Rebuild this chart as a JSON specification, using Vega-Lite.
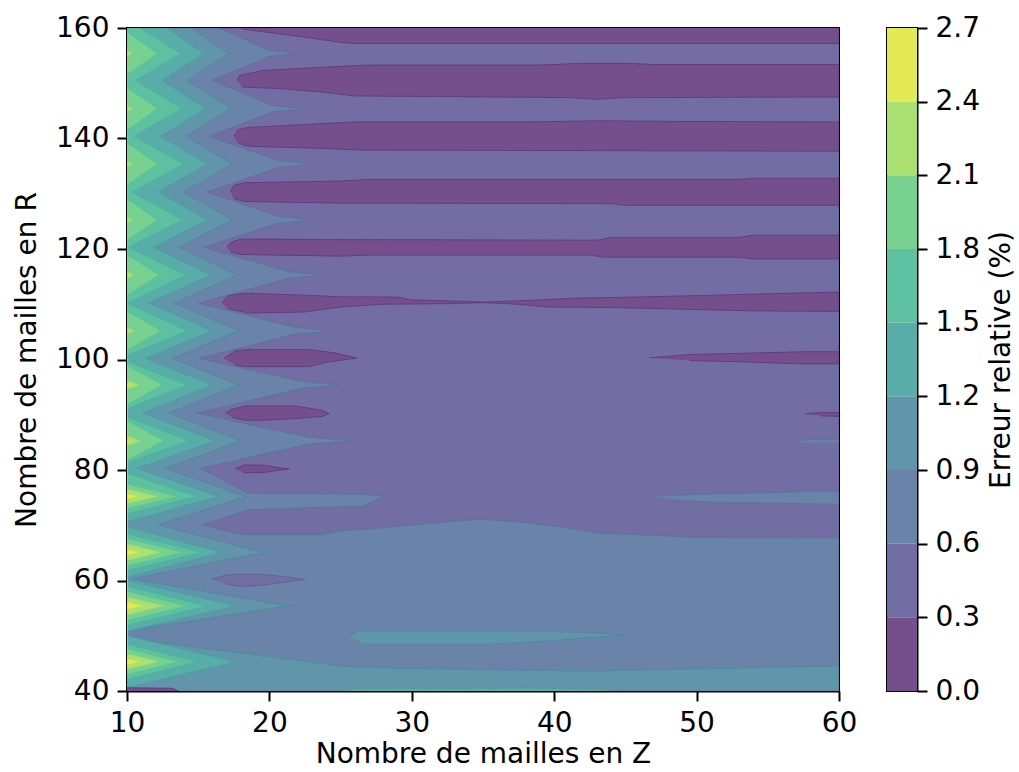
{
"$schema": "https://vega.github.io/schema/vega-lite/v6.json",
"background": "white",
"padding": {"left": 12, "top": 13, "right": 0, "bottom": 0},
"spacing": 28,
"config": {
 "font": "DejaVu Sans",
 "view": {"stroke": "#000000", "strokeWidth": 2},
 "axis": {"labelFont": "DejaVu Sans", "titleFont": "DejaVu Sans", "labelFontSize": 28, "titleFontSize": 28, "titleFontWeight": "normal", "labelColor": "#000000", "titleColor": "#000000", "tickColor": "#000000", "domainColor": "#000000", "domainWidth": 2, "tickWidth": 2, "tickSize": 10, "grid": false, "labelPadding": 8, "labelFlush": false, "labelOverlap": false}
},
"datasets": {
"cbar": [
 {"lo":0,"hi":0.3,"l":0},{"lo":0.3,"hi":0.6,"l":1},{"lo":0.6,"hi":0.9,"l":2},{"lo":0.9,"hi":1.2,"l":3},{"lo":1.2,"hi":1.5,"l":4},{"lo":1.5,"hi":1.8,"l":5},{"lo":1.8,"hi":2.1,"l":6},{"lo":2.1,"hi":2.4,"l":7},{"lo":2.4,"hi":2.7,"l":8}
],
"poly": [
{"g":"bg","p":0,"l":1,"z":10,"r":40},{"g":"bg","p":0,"l":1,"z":60,"r":40},{"g":"bg","p":0,"l":1,"z":60,"r":160},{"g":"bg","p":0,"l":1,"z":10,"r":160},

{"g":"b160","p":1,"l":0,"z":18.0,"r":160},{"g":"b160","p":1,"l":0,"z":18.1,"r":159.8},{"g":"b160","p":1,"l":0,"z":22.3,"r":158.4},{"g":"b160","p":1,"l":0,"z":25,"r":157.4},{"g":"b160","p":1,"l":0,"z":26,"r":157.2},{"g":"b160","p":1,"l":0,"z":60,"r":157.2},{"g":"b160","p":1,"l":0,"z":60,"r":160},

{"g":"b150","p":1,"l":0,"z":17.72,"r":150.5},{"g":"b150","p":1,"l":0,"z":17.9,"r":151.4},{"g":"b150","p":1,"l":0,"z":19.5,"r":152.3},{"g":"b150","p":1,"l":0,"z":23.7,"r":152.9},{"g":"b150","p":1,"l":0,"z":27,"r":153.3},{"g":"b150","p":1,"l":0,"z":39,"r":153.3},{"g":"b150","p":1,"l":0,"z":42,"r":153.6},{"g":"b150","p":1,"l":0,"z":45.3,"r":153.6},{"g":"b150","p":1,"l":0,"z":47,"r":153.4},{"g":"b150","p":1,"l":0,"z":60,"r":153.4},{"g":"b150","p":1,"l":0,"z":60,"r":147.5},{"g":"b150","p":1,"l":0,"z":45,"r":147.4},{"g":"b150","p":1,"l":0,"z":43,"r":147.1},{"g":"b150","p":1,"l":0,"z":41,"r":147.4},{"g":"b150","p":1,"l":0,"z":26,"r":147.7},{"g":"b150","p":1,"l":0,"z":23.7,"r":148.4},{"g":"b150","p":1,"l":0,"z":20.9,"r":149.0},{"g":"b150","p":1,"l":0,"z":18.1,"r":149.3},

{"g":"b140","p":1,"l":0,"z":17.49,"r":140.4},{"g":"b140","p":1,"l":0,"z":17.8,"r":141.6},{"g":"b140","p":1,"l":0,"z":18.5,"r":142.0},{"g":"b140","p":1,"l":0,"z":23.7,"r":142.7},{"g":"b140","p":1,"l":0,"z":26,"r":143.0},{"g":"b140","p":1,"l":0,"z":38,"r":143.0},{"g":"b140","p":1,"l":0,"z":43,"r":143.2},{"g":"b140","p":1,"l":0,"z":48.6,"r":143.1},{"g":"b140","p":1,"l":0,"z":60,"r":143.0},{"g":"b140","p":1,"l":0,"z":60,"r":137.7},{"g":"b140","p":1,"l":0,"z":26.4,"r":137.9},{"g":"b140","p":1,"l":0,"z":23.7,"r":138.2},{"g":"b140","p":1,"l":0,"z":18.5,"r":138.6},{"g":"b140","p":1,"l":0,"z":17.8,"r":139.2},

{"g":"b130","p":1,"l":0,"z":17.26,"r":130.3},{"g":"b130","p":1,"l":0,"z":17.5,"r":131.5},{"g":"b130","p":1,"l":0,"z":18.2,"r":132.0},{"g":"b130","p":1,"l":0,"z":25,"r":132.3},{"g":"b130","p":1,"l":0,"z":27,"r":132.6},{"g":"b130","p":1,"l":0,"z":53,"r":132.6},{"g":"b130","p":1,"l":0,"z":54,"r":132.8},{"g":"b130","p":1,"l":0,"z":60,"r":132.8},{"g":"b130","p":1,"l":0,"z":60,"r":127.9},{"g":"b130","p":1,"l":0,"z":45,"r":127.9},{"g":"b130","p":1,"l":0,"z":44,"r":128.2},{"g":"b130","p":1,"l":0,"z":25,"r":128.3},{"g":"b130","p":1,"l":0,"z":18.2,"r":128.6},{"g":"b130","p":1,"l":0,"z":17.5,"r":129.1},

{"g":"b120","p":1,"l":0,"z":17.02,"r":120.3},{"g":"b120","p":1,"l":0,"z":17.3,"r":121.2},{"g":"b120","p":1,"l":0,"z":18,"r":121.8},{"g":"b120","p":1,"l":0,"z":26,"r":121.7},{"g":"b120","p":1,"l":0,"z":43,"r":121.6},{"g":"b120","p":1,"l":0,"z":44,"r":122.1},{"g":"b120","p":1,"l":0,"z":53,"r":122.1},{"g":"b120","p":1,"l":0,"z":54,"r":122.5},{"g":"b120","p":1,"l":0,"z":60,"r":122.5},{"g":"b120","p":1,"l":0,"z":60,"r":118.2},{"g":"b120","p":1,"l":0,"z":54,"r":118.2},{"g":"b120","p":1,"l":0,"z":53,"r":118.5},{"g":"b120","p":1,"l":0,"z":43.5,"r":118.5},{"g":"b120","p":1,"l":0,"z":42.5,"r":118.9},{"g":"b120","p":1,"l":0,"z":27,"r":118.9},{"g":"b120","p":1,"l":0,"z":25,"r":118.7},{"g":"b120","p":1,"l":0,"z":18,"r":119.0},{"g":"b120","p":1,"l":0,"z":17.3,"r":119.4},

{"g":"b110","p":1,"l":0,"z":16.67,"r":110.2},{"g":"b110","p":1,"l":0,"z":17.1,"r":111.6},{"g":"b110","p":1,"l":0,"z":18.3,"r":112.0},{"g":"b110","p":1,"l":0,"z":22.5,"r":111.65},{"g":"b110","p":1,"l":0,"z":25,"r":111.35},{"g":"b110","p":1,"l":0,"z":29,"r":111.3},{"g":"b110","p":1,"l":0,"z":30,"r":110.8},{"g":"b110","p":1,"l":0,"z":32.7,"r":110.6},{"g":"b110","p":1,"l":0,"z":35,"r":110.4},{"g":"b110","p":1,"l":0,"z":37.4,"r":110.6},{"g":"b110","p":1,"l":0,"z":39,"r":110.8},{"g":"b110","p":1,"l":0,"z":41.4,"r":111.1},{"g":"b110","p":1,"l":0,"z":45.6,"r":111.3},{"g":"b110","p":1,"l":0,"z":50.5,"r":111.6},{"g":"b110","p":1,"l":0,"z":55,"r":111.9},{"g":"b110","p":1,"l":0,"z":60,"r":112.2},{"g":"b110","p":1,"l":0,"z":60,"r":108.7},{"g":"b110","p":1,"l":0,"z":54,"r":108.8},{"g":"b110","p":1,"l":0,"z":49,"r":109.1},{"g":"b110","p":1,"l":0,"z":44,"r":109.4},{"g":"b110","p":1,"l":0,"z":39.5,"r":109.5},{"g":"b110","p":1,"l":0,"z":37.4,"r":110.0},{"g":"b110","p":1,"l":0,"z":35,"r":110.3},{"g":"b110","p":1,"l":0,"z":32.7,"r":110.1},{"g":"b110","p":1,"l":0,"z":28,"r":110.0},{"g":"b110","p":1,"l":0,"z":25,"r":109.5},{"g":"b110","p":1,"l":0,"z":22.5,"r":108.6},{"g":"b110","p":1,"l":0,"z":18.5,"r":108.4},{"g":"b110","p":1,"l":0,"z":17.1,"r":109.2},

{"g":"b100L","p":1,"l":0,"z":16.8,"r":100.2},{"g":"b100L","p":1,"l":0,"z":17.6,"r":101.6},{"g":"b100L","p":1,"l":0,"z":18.5,"r":101.8},{"g":"b100L","p":1,"l":0,"z":22.8,"r":101.8},{"g":"b100L","p":1,"l":0,"z":24.6,"r":101.2},{"g":"b100L","p":1,"l":0,"z":26.15,"r":100.25},{"g":"b100L","p":1,"l":0,"z":24,"r":99.5},{"g":"b100L","p":1,"l":0,"z":22.8,"r":98.7},{"g":"b100L","p":1,"l":0,"z":18.3,"r":98.7},{"g":"b100L","p":1,"l":0,"z":17.6,"r":99.0},

{"g":"b100R","p":1,"l":0,"z":46.7,"r":100.3},{"g":"b100R","p":1,"l":0,"z":49.5,"r":100.9},{"g":"b100R","p":1,"l":0,"z":52.8,"r":101.1},{"g":"b100R","p":1,"l":0,"z":57.5,"r":101.4},{"g":"b100R","p":1,"l":0,"z":60,"r":101.4},{"g":"b100R","p":1,"l":0,"z":60,"r":99.2},{"g":"b100R","p":1,"l":0,"z":57.5,"r":99.2},{"g":"b100R","p":1,"l":0,"z":52.8,"r":99.6},{"g":"b100R","p":1,"l":0,"z":49.5,"r":99.8},

{"g":"b90L","p":1,"l":0,"z":16.9,"r":90.3},{"g":"b90L","p":1,"l":0,"z":17.4,"r":91.0},{"g":"b90L","p":1,"l":0,"z":18.3,"r":91.6},{"g":"b90L","p":1,"l":0,"z":21.8,"r":91.6},{"g":"b90L","p":1,"l":0,"z":23.7,"r":90.8},{"g":"b90L","p":1,"l":0,"z":24.2,"r":90.2},{"g":"b90L","p":1,"l":0,"z":23.7,"r":89.7},{"g":"b90L","p":1,"l":0,"z":21.8,"r":89.3},{"g":"b90L","p":1,"l":0,"z":19.5,"r":89.0},{"g":"b90L","p":1,"l":0,"z":18.3,"r":89.0},{"g":"b90L","p":1,"l":0,"z":17.4,"r":89.5},

{"g":"b90R","p":1,"l":0,"z":57.6,"r":90.15},{"g":"b90R","p":1,"l":0,"z":58.7,"r":90.4},{"g":"b90R","p":1,"l":0,"z":60,"r":90.4},{"g":"b90R","p":1,"l":0,"z":60,"r":89.7},{"g":"b90R","p":1,"l":0,"z":58.7,"r":89.8},

{"g":"b80","p":1,"l":0,"z":17.6,"r":80.2},{"g":"b80","p":1,"l":0,"z":18.2,"r":80.9},{"g":"b80","p":1,"l":0,"z":19.5,"r":80.9},{"g":"b80","p":1,"l":0,"z":20.5,"r":80.5},{"g":"b80","p":1,"l":0,"z":21.4,"r":80.2},{"g":"b80","p":1,"l":0,"z":20.5,"r":79.9},{"g":"b80","p":1,"l":0,"z":19.5,"r":79.5},{"g":"b80","p":1,"l":0,"z":18.2,"r":79.5},

{"g":"L2","p":2,"l":2,"z":10,"r":40},{"g":"L2","p":2,"l":2,"z":60,"r":40},{"g":"L2","p":2,"l":2,"z":60,"r":67.7},{"g":"L2","p":2,"l":2,"z":50,"r":67.8},{"g":"L2","p":2,"l":2,"z":46,"r":68.3},{"g":"L2","p":2,"l":2,"z":43.2,"r":68.5},{"g":"L2","p":2,"l":2,"z":40.5,"r":69.7},{"g":"L2","p":2,"l":2,"z":37.5,"r":70.6},{"g":"L2","p":2,"l":2,"z":34.8,"r":71.1},{"g":"L2","p":2,"l":2,"z":32,"r":70.5},{"g":"L2","p":2,"l":2,"z":29.5,"r":69.9},{"g":"L2","p":2,"l":2,"z":27,"r":69.3},{"g":"L2","p":2,"l":2,"z":25,"r":69.0},{"g":"L2","p":2,"l":2,"z":23.7,"r":68.3},{"g":"L2","p":2,"l":2,"z":18.1,"r":68.3},{"g":"L2","p":2,"l":2,"z":16.5,"r":69.2},{"g":"L2","p":2,"l":2,"z":15.3,"r":70.1},{"g":"L2","p":2,"l":2,"z":18.5,"r":72.8},{"g":"L2","p":2,"l":2,"z":26.6,"r":73.5},{"g":"L2","p":2,"l":2,"z":28.1,"r":75.3},{"g":"L2","p":2,"l":2,"z":26.4,"r":75.6},{"g":"L2","p":2,"l":2,"z":18.5,"r":75.8},{"g":"L2","p":2,"l":2,"z":15.15,"r":80.3},{"g":"L2","p":2,"l":2,"z":22.76,"r":84.7},{"g":"L2","p":2,"l":2,"z":25.8,"r":85.3},{"g":"L2","p":2,"l":2,"z":22.76,"r":85.9},{"g":"L2","p":2,"l":2,"z":14.92,"r":90.3},{"g":"L2","p":2,"l":2,"z":22.29,"r":94.8},{"g":"L2","p":2,"l":2,"z":24.98,"r":95.4},{"g":"L2","p":2,"l":2,"z":22.29,"r":96.0},{"g":"L2","p":2,"l":2,"z":15.03,"r":100.2},{"g":"L2","p":2,"l":2,"z":21.82,"r":104.6},{"g":"L2","p":2,"l":2,"z":24.4,"r":105.2},{"g":"L2","p":2,"l":2,"z":21.82,"r":105.8},{"g":"L2","p":2,"l":2,"z":15.03,"r":110.2},{"g":"L2","p":2,"l":2,"z":21.35,"r":114.7},{"g":"L2","p":2,"l":2,"z":23.69,"r":115.3},{"g":"L2","p":2,"l":2,"z":21.35,"r":115.9},{"g":"L2","p":2,"l":2,"z":15.38,"r":120.3},{"g":"L2","p":2,"l":2,"z":20.65,"r":124.7},{"g":"L2","p":2,"l":2,"z":22.87,"r":125.3},{"g":"L2","p":2,"l":2,"z":20.65,"r":125.9},{"g":"L2","p":2,"l":2,"z":15.62,"r":130.3},{"g":"L2","p":2,"l":2,"z":20.65,"r":134.8},{"g":"L2","p":2,"l":2,"z":22.99,"r":135.4},{"g":"L2","p":2,"l":2,"z":20.65,"r":136.0},{"g":"L2","p":2,"l":2,"z":15.78,"r":140.4},{"g":"L2","p":2,"l":2,"z":20.18,"r":144.8},{"g":"L2","p":2,"l":2,"z":22.29,"r":145.4},{"g":"L2","p":2,"l":2,"z":20.18,"r":146.0},{"g":"L2","p":2,"l":2,"z":15.97,"r":150.5},{"g":"L2","p":2,"l":2,"z":19.95,"r":154.8},{"g":"L2","p":2,"l":2,"z":21.7,"r":155.4},{"g":"L2","p":2,"l":2,"z":19.95,"r":156.0},{"g":"L2","p":2,"l":2,"z":16.45,"r":160},{"g":"L2","p":2,"l":2,"z":10,"r":160},

{"g":"s75R","p":2,"l":2,"z":46.7,"r":75.2},{"g":"s75R","p":2,"l":2,"z":49,"r":75.5},{"g":"s75R","p":2,"l":2,"z":52,"r":75.7},{"g":"s75R","p":2,"l":2,"z":55,"r":75.9},{"g":"s75R","p":2,"l":2,"z":58,"r":76.1},{"g":"s75R","p":2,"l":2,"z":60,"r":76.1},{"g":"s75R","p":2,"l":2,"z":60,"r":73.8},{"g":"s75R","p":2,"l":2,"z":55,"r":74.0},{"g":"s75R","p":2,"l":2,"z":51,"r":74.2},{"g":"s75R","p":2,"l":2,"z":48.5,"r":74.6},

{"g":"s85R","p":2,"l":2,"z":56.6,"r":85.2},{"g":"s85R","p":2,"l":2,"z":58,"r":85.5},{"g":"s85R","p":2,"l":2,"z":60,"r":85.5},{"g":"s85R","p":2,"l":2,"z":60,"r":84.9},{"g":"s85R","p":2,"l":2,"z":58,"r":84.9},

{"g":"s95R","p":2,"l":2,"z":59.4,"r":95.1},{"g":"s95R","p":2,"l":2,"z":60,"r":95.3},{"g":"s95R","p":2,"l":2,"z":60,"r":94.9},

{"g":"i60","p":3,"l":1,"z":15.94,"r":60.2},{"g":"i60","p":3,"l":1,"z":16.8,"r":60.9},{"g":"i60","p":3,"l":1,"z":17.5,"r":61.1},{"g":"i60","p":3,"l":1,"z":19.5,"r":61.1},{"g":"i60","p":3,"l":1,"z":21,"r":60.7},{"g":"i60","p":3,"l":1,"z":22.5,"r":60.2},{"g":"i60","p":3,"l":1,"z":20.5,"r":59.5},{"g":"i60","p":3,"l":1,"z":19,"r":59.0},{"g":"i60","p":3,"l":1,"z":17.7,"r":59.0},{"g":"i60","p":3,"l":1,"z":16.8,"r":59.5},

{"g":"L3","p":4,"l":3,"z":10,"r":40},{"g":"L3","p":4,"l":3,"z":60,"r":40},{"g":"L3","p":4,"l":3,"z":60,"r":44.5},{"g":"L3","p":4,"l":3,"z":57,"r":44.4},{"g":"L3","p":4,"l":3,"z":52,"r":44.1},{"g":"L3","p":4,"l":3,"z":46,"r":43.8},{"g":"L3","p":4,"l":3,"z":42.5,"r":43.6},{"g":"L3","p":4,"l":3,"z":37,"r":43.8},{"g":"L3","p":4,"l":3,"z":29,"r":44.1},{"g":"L3","p":4,"l":3,"z":25,"r":44.5},{"g":"L3","p":4,"l":3,"z":22.5,"r":45.4},{"g":"L3","p":4,"l":3,"z":17.9,"r":46.9},{"g":"L3","p":4,"l":3,"z":11.5,"r":49.0},{"g":"L3","p":4,"l":3,"z":10,"r":49.5},{"g":"L3","p":4,"l":3,"z":10,"r":50.9},{"g":"L3","p":4,"l":3,"z":20.8,"r":55.2},{"g":"L3","p":4,"l":3,"z":21.8,"r":55.4},{"g":"L3","p":4,"l":3,"z":20.8,"r":55.6},{"g":"L3","p":4,"l":3,"z":10.35,"r":60.3},{"g":"L3","p":4,"l":3,"z":19.0,"r":64.8},{"g":"L3","p":4,"l":3,"z":19.95,"r":65.1},{"g":"L3","p":4,"l":3,"z":19.0,"r":65.4},{"g":"L3","p":4,"l":3,"z":12.2,"r":70.1},{"g":"L3","p":4,"l":3,"z":17.96,"r":74.9},{"g":"L3","p":4,"l":3,"z":18.43,"r":75.2},{"g":"L3","p":4,"l":3,"z":17.96,"r":75.5},{"g":"L3","p":4,"l":3,"z":12.69,"r":80.3},{"g":"L3","p":4,"l":3,"z":17.96,"r":85.3},{"g":"L3","p":4,"l":3,"z":12.93,"r":90.3},{"g":"L3","p":4,"l":3,"z":17.84,"r":95.4},{"g":"L3","p":4,"l":3,"z":13.16,"r":100.2},{"g":"L3","p":4,"l":3,"z":17.84,"r":105.2},{"g":"L3","p":4,"l":3,"z":13.28,"r":110.2},{"g":"L3","p":4,"l":3,"z":17.72,"r":115.3},{"g":"L3","p":4,"l":3,"z":13.63,"r":120.3},{"g":"L3","p":4,"l":3,"z":17.37,"r":125.3},{"g":"L3","p":4,"l":3,"z":13.98,"r":130.3},{"g":"L3","p":4,"l":3,"z":17.37,"r":135.4},{"g":"L3","p":4,"l":3,"z":14.1,"r":140.4},{"g":"L3","p":4,"l":3,"z":17.26,"r":145.4},{"g":"L3","p":4,"l":3,"z":14.21,"r":150.5},{"g":"L3","p":4,"l":3,"z":17.14,"r":155.4},{"g":"L3","p":4,"l":3,"z":14.53,"r":160},{"g":"L3","p":4,"l":3,"z":10,"r":160},

{"g":"i50","p":4,"l":3,"z":25.5,"r":50.0},{"g":"i50","p":4,"l":3,"z":26.4,"r":50.9},{"g":"i50","p":4,"l":3,"z":38,"r":50.9},{"g":"i50","p":4,"l":3,"z":42,"r":50.6},{"g":"i50","p":4,"l":3,"z":44.2,"r":50.3},{"g":"i50","p":4,"l":3,"z":45.1,"r":50.1},{"g":"i50","p":4,"l":3,"z":42.3,"r":49.7},{"g":"i50","p":4,"l":3,"z":40,"r":49.1},{"g":"i50","p":4,"l":3,"z":35.5,"r":48.5},{"g":"i50","p":4,"l":3,"z":26.6,"r":48.5},

{"g":"L4","p":5,"l":4,"z":10,"r":40.6},{"g":"L4","p":5,"l":4,"z":17.14,"r":45.0},{"g":"L4","p":5,"l":4,"z":17.37,"r":45.3},{"g":"L4","p":5,"l":4,"z":17.14,"r":45.6},{"g":"L4","p":5,"l":4,"z":10,"r":50.0},{"g":"L4","p":5,"l":4,"z":10,"r":50.8},{"g":"L4","p":5,"l":4,"z":17.14,"r":55.1},{"g":"L4","p":5,"l":4,"z":17.37,"r":55.4},{"g":"L4","p":5,"l":4,"z":17.14,"r":55.7},{"g":"L4","p":5,"l":4,"z":10,"r":60.0},{"g":"L4","p":5,"l":4,"z":10,"r":60.6},{"g":"L4","p":5,"l":4,"z":16.67,"r":65.1},{"g":"L4","p":5,"l":4,"z":10,"r":69.7},{"g":"L4","p":5,"l":4,"z":10,"r":70.6},{"g":"L4","p":5,"l":4,"z":16.44,"r":75.2},{"g":"L4","p":5,"l":4,"z":10.7,"r":80.3},{"g":"L4","p":5,"l":4,"z":16.2,"r":85.3},{"g":"L4","p":5,"l":4,"z":11.05,"r":90.3},{"g":"L4","p":5,"l":4,"z":15.97,"r":95.4},{"g":"L4","p":5,"l":4,"z":11.29,"r":100.2},{"g":"L4","p":5,"l":4,"z":15.97,"r":105.2},{"g":"L4","p":5,"l":4,"z":11.52,"r":110.2},{"g":"L4","p":5,"l":4,"z":15.85,"r":115.3},{"g":"L4","p":5,"l":4,"z":11.87,"r":120.3},{"g":"L4","p":5,"l":4,"z":15.62,"r":125.3},{"g":"L4","p":5,"l":4,"z":12.22,"r":130.3},{"g":"L4","p":5,"l":4,"z":15.62,"r":135.4},{"g":"L4","p":5,"l":4,"z":12.34,"r":140.4},{"g":"L4","p":5,"l":4,"z":15.5,"r":145.4},{"g":"L4","p":5,"l":4,"z":12.46,"r":150.5},{"g":"L4","p":5,"l":4,"z":15.38,"r":155.4},{"g":"L4","p":5,"l":4,"z":12.82,"r":160},{"g":"L4","p":5,"l":4,"z":10,"r":160},

{"g":"L4b","p":5,"l":4,"z":25,"r":40},{"g":"L4b","p":5,"l":4,"z":26,"r":40.4},{"g":"L4b","p":5,"l":4,"z":38,"r":40.5},{"g":"L4b","p":5,"l":4,"z":43.5,"r":40.3},{"g":"L4b","p":5,"l":4,"z":44,"r":40},

{"g":"b40","p":5,"l":0,"z":10,"r":40},{"g":"b40","p":5,"l":0,"z":10,"r":40.6},{"g":"b40","p":5,"l":0,"z":13.2,"r":40.5},{"g":"b40","p":5,"l":0,"z":13.6,"r":40},

{"g":"L5","p":6,"l":5,"z":10,"r":42.1},{"g":"L5","p":6,"l":5,"z":15.0,"r":45.3},{"g":"L5","p":6,"l":5,"z":10,"r":48.5},{"g":"L5","p":6,"l":5,"z":10,"r":51.9},{"g":"L5","p":6,"l":5,"z":15.6,"r":55.4},{"g":"L5","p":6,"l":5,"z":10,"r":58.9},{"g":"L5","p":6,"l":5,"z":10,"r":61.8},{"g":"L5","p":6,"l":5,"z":15.27,"r":65.1},{"g":"L5","p":6,"l":5,"z":10,"r":68.4},{"g":"L5","p":6,"l":5,"z":10,"r":72.1},{"g":"L5","p":6,"l":5,"z":14.9,"r":75.2},{"g":"L5","p":6,"l":5,"z":10,"r":79.4},{"g":"L5","p":6,"l":5,"z":10,"r":81.3},{"g":"L5","p":6,"l":5,"z":14.33,"r":85.3},{"g":"L5","p":6,"l":5,"z":10,"r":89.56},{"g":"L5","p":6,"l":5,"z":10,"r":91.07},{"g":"L5","p":6,"l":5,"z":14.21,"r":95.4},{"g":"L5","p":6,"l":5,"z":10,"r":99.69},{"g":"L5","p":6,"l":5,"z":10,"r":100.73},{"g":"L5","p":6,"l":5,"z":14.21,"r":105.2},{"g":"L5","p":6,"l":5,"z":10,"r":110.2},{"g":"L5","p":6,"l":5,"z":14.1,"r":115.3},{"g":"L5","p":6,"l":5,"z":10.12,"r":120.3},{"g":"L5","p":6,"l":5,"z":13.86,"r":125.3},{"g":"L5","p":6,"l":5,"z":10.35,"r":130.3},{"g":"L5","p":6,"l":5,"z":13.98,"r":135.4},{"g":"L5","p":6,"l":5,"z":10.47,"r":140.4},{"g":"L5","p":6,"l":5,"z":13.86,"r":145.4},{"g":"L5","p":6,"l":5,"z":10.59,"r":150.5},{"g":"L5","p":6,"l":5,"z":13.75,"r":155.4},{"g":"L5","p":6,"l":5,"z":10.94,"r":160},{"g":"L5","p":6,"l":5,"z":10,"r":160},

{"g":"L6","p":7,"l":6,"z":10,"r":43.0},{"g":"L6","p":7,"l":6,"z":13.6,"r":45.3},{"g":"L6","p":7,"l":6,"z":10,"r":47.6},{"g":"L6","p":7,"l":6,"z":10,"r":52.8},{"g":"L6","p":7,"l":6,"z":14.1,"r":55.4},{"g":"L6","p":7,"l":6,"z":10,"r":58.0},{"g":"L6","p":7,"l":6,"z":10,"r":62.65},{"g":"L6","p":7,"l":6,"z":13.86,"r":65.1},{"g":"L6","p":7,"l":6,"z":10,"r":67.55},{"g":"L6","p":7,"l":6,"z":10,"r":73.0},{"g":"L6","p":7,"l":6,"z":13.5,"r":75.2},{"g":"L6","p":7,"l":6,"z":10,"r":77.4},{"g":"L6","p":7,"l":6,"z":10,"r":81.8},{"g":"L6","p":7,"l":6,"z":12.57,"r":85.3},{"g":"L6","p":7,"l":6,"z":10,"r":88.8},{"g":"L6","p":7,"l":6,"z":10,"r":91.9},{"g":"L6","p":7,"l":6,"z":12.46,"r":95.4},{"g":"L6","p":7,"l":6,"z":10,"r":98.9},{"g":"L6","p":7,"l":6,"z":10,"r":101.7},{"g":"L6","p":7,"l":6,"z":12.34,"r":105.2},{"g":"L6","p":7,"l":6,"z":10,"r":108.7},{"g":"L6","p":7,"l":6,"z":10,"r":111.7},{"g":"L6","p":7,"l":6,"z":12.22,"r":115.3},{"g":"L6","p":7,"l":6,"z":10,"r":118.9},{"g":"L6","p":7,"l":6,"z":10,"r":121.6},{"g":"L6","p":7,"l":6,"z":12.11,"r":125.3},{"g":"L6","p":7,"l":6,"z":10,"r":129.0},{"g":"L6","p":7,"l":6,"z":10,"r":131.6},{"g":"L6","p":7,"l":6,"z":12.11,"r":135.4},{"g":"L6","p":7,"l":6,"z":10,"r":139.2},{"g":"L6","p":7,"l":6,"z":10,"r":141.6},{"g":"L6","p":7,"l":6,"z":12.11,"r":145.4},{"g":"L6","p":7,"l":6,"z":10,"r":149.2},{"g":"L6","p":7,"l":6,"z":10,"r":151.6},{"g":"L6","p":7,"l":6,"z":12.11,"r":155.4},{"g":"L6","p":7,"l":6,"z":10,"r":159.2},

{"g":"L7","p":8,"l":7,"z":10,"r":43.9},{"g":"L7","p":8,"l":7,"z":12.2,"r":45.3},{"g":"L7","p":8,"l":7,"z":10,"r":46.7},{"g":"L7","p":8,"l":7,"z":10,"r":53.8},{"g":"L7","p":8,"l":7,"z":12.57,"r":55.4},{"g":"L7","p":8,"l":7,"z":10,"r":57.0},{"g":"L7","p":8,"l":7,"z":10,"r":63.6},{"g":"L7","p":8,"l":7,"z":12.34,"r":65.1},{"g":"L7","p":8,"l":7,"z":10,"r":66.6},{"g":"L7","p":8,"l":7,"z":10,"r":73.9},{"g":"L7","p":8,"l":7,"z":12.1,"r":75.2},{"g":"L7","p":8,"l":7,"z":10,"r":76.5},{"g":"L7","p":8,"l":7,"z":10,"r":84.4},{"g":"L7","p":8,"l":7,"z":10.94,"r":85.3},{"g":"L7","p":8,"l":7,"z":10,"r":86.2},{"g":"L7","p":8,"l":7,"z":10,"r":94.6},{"g":"L7","p":8,"l":7,"z":10.82,"r":95.4},{"g":"L7","p":8,"l":7,"z":10,"r":96.2},{"g":"L7","p":8,"l":7,"z":10,"r":104.6},{"g":"L7","p":8,"l":7,"z":10.47,"r":105.2},{"g":"L7","p":8,"l":7,"z":10,"r":105.8},{"g":"L7","p":8,"l":7,"z":10,"r":114.7},{"g":"L7","p":8,"l":7,"z":10.47,"r":115.3},{"g":"L7","p":8,"l":7,"z":10,"r":115.9},{"g":"L7","p":8,"l":7,"z":10,"r":124.8},{"g":"L7","p":8,"l":7,"z":10.35,"r":125.3},{"g":"L7","p":8,"l":7,"z":10,"r":125.8},{"g":"L7","p":8,"l":7,"z":10,"r":134.9},{"g":"L7","p":8,"l":7,"z":10.35,"r":135.4},{"g":"L7","p":8,"l":7,"z":10,"r":135.9},{"g":"L7","p":8,"l":7,"z":10,"r":144.9},{"g":"L7","p":8,"l":7,"z":10.35,"r":145.4},{"g":"L7","p":8,"l":7,"z":10,"r":145.9},{"g":"L7","p":8,"l":7,"z":10,"r":154.9},{"g":"L7","p":8,"l":7,"z":10.35,"r":155.4},{"g":"L7","p":8,"l":7,"z":10,"r":155.9},

{"g":"L8","p":9,"l":8,"z":10,"r":44.8},{"g":"L8","p":9,"l":8,"z":10.82,"r":45.3},{"g":"L8","p":9,"l":8,"z":10,"r":45.8},{"g":"L8","p":9,"l":8,"z":10,"r":54.75},{"g":"L8","p":9,"l":8,"z":11.05,"r":55.4},{"g":"L8","p":9,"l":8,"z":10,"r":56.05},{"g":"L8","p":9,"l":8,"z":10,"r":64.6},{"g":"L8","p":9,"l":8,"z":10.82,"r":65.1},{"g":"L8","p":9,"l":8,"z":10,"r":65.6},{"g":"L8","p":9,"l":8,"z":10,"r":74.75},{"g":"L8","p":9,"l":8,"z":10.7,"r":75.2},{"g":"L8","p":9,"l":8,"z":10,"r":75.65},{"g":"L8","p":9,"l":8,"z":10,"r":85.15},{"g":"L8","p":9,"l":8,"z":10.23,"r":85.3},{"g":"L8","p":9,"l":8,"z":10,"r":85.45},{"g":"L8","p":9,"l":8,"z":10,"r":95.25},{"g":"L8","p":9,"l":8,"z":10.23,"r":95.4},{"g":"L8","p":9,"l":8,"z":10,"r":95.55}
]
},
"hconcat": [
{
 "width": 712, "height": 663,
 "data": {"name": "poly"},
 "encoding": {
  "x": {"field": "z", "type": "quantitative", "scale": {"domain": [10, 60], "nice": false, "zero": false}, "axis": {"values": [10,20,30,40,50,60], "titlePadding": 3}, "title": "Nombre de mailles en Z"},
  "y": {"field": "r", "type": "quantitative", "scale": {"domain": [40, 160], "nice": false, "zero": false}, "axis": {"values": [40,60,80,100,120,140,160], "titlePadding": 14}, "title": "Nombre de mailles en R"},
  "detail": {"field": "g"},
  "order": {"value": null},
  "color": {"field": "l", "type": "ordinal", "scale": {"domain": [0,1,2,3,4,5,6,7,8], "range": ["#754F8C","#726EA4","#6A83A9","#6196AA","#59ADA9","#5CC0A1","#79D191","#ABE173","#E3EA53"]}, "legend": null},
  "stroke": {"field": "l", "type": "ordinal", "scale": {"domain": [0,1,2,3,4,5,6,7,8], "range": ["#5E3580","#5F5A98","#55739F","#4C88A0","#43A19E","#47B796","#66CA83","#A0DC63","#DCE43C"]}, "legend": null}
 },
 "layer": [
  {"transform": [{"filter": "datum.p == 0"}], "mark": {"type": "line", "filled": true, "opacity": 1, "strokeWidth": 0.8, "clip": true}},
  {"transform": [{"filter": "datum.p == 1"}], "mark": {"type": "line", "filled": true, "opacity": 1, "strokeWidth": 0.8, "clip": true}},
  {"transform": [{"filter": "datum.p == 2"}], "mark": {"type": "line", "filled": true, "opacity": 1, "strokeWidth": 0.8, "clip": true}},
  {"transform": [{"filter": "datum.p == 3"}], "mark": {"type": "line", "filled": true, "opacity": 1, "strokeWidth": 0.8, "clip": true}},
  {"transform": [{"filter": "datum.p == 4"}], "mark": {"type": "line", "filled": true, "opacity": 1, "strokeWidth": 0.8, "clip": true}},
  {"transform": [{"filter": "datum.p == 5"}], "mark": {"type": "line", "filled": true, "opacity": 1, "strokeWidth": 0.8, "clip": true}},
  {"transform": [{"filter": "datum.p == 6"}], "mark": {"type": "line", "filled": true, "opacity": 1, "strokeWidth": 0.8, "clip": true}},
  {"transform": [{"filter": "datum.p == 7"}], "mark": {"type": "line", "filled": true, "opacity": 1, "strokeWidth": 0.8, "clip": true}},
  {"transform": [{"filter": "datum.p == 8"}], "mark": {"type": "line", "filled": true, "opacity": 1, "strokeWidth": 0.8, "clip": true}},
  {"transform": [{"filter": "datum.p == 9"}], "mark": {"type": "line", "filled": true, "opacity": 1, "strokeWidth": 0.8, "clip": true}}
 ]
},
{
 "width": 30, "height": 663,
 "data": {"name": "cbar"},
 "mark": {"type": "rect"},
 "encoding": {
  "y": {"field": "lo", "type": "quantitative", "scale": {"domain": [0, 2.7], "nice": false, "zero": false}, "axis": {"orient": "right", "values": [0,0.3,0.6,0.9,1.2,1.5,1.8,2.1,2.4,2.7], "format": ".1f", "titleAngle": 270, "titleBaseline": "top", "titlePadding": 8}, "title": "Erreur relative (%)"},
  "y2": {"field": "hi"},
  "color": {"field": "l", "type": "ordinal", "scale": {"domain": [0,1,2,3,4,5,6,7,8], "range": ["#754F8C","#726EA4","#6A83A9","#6196AA","#59ADA9","#5CC0A1","#79D191","#ABE173","#E3EA53"]}, "legend": null}
 }
}
]
}
